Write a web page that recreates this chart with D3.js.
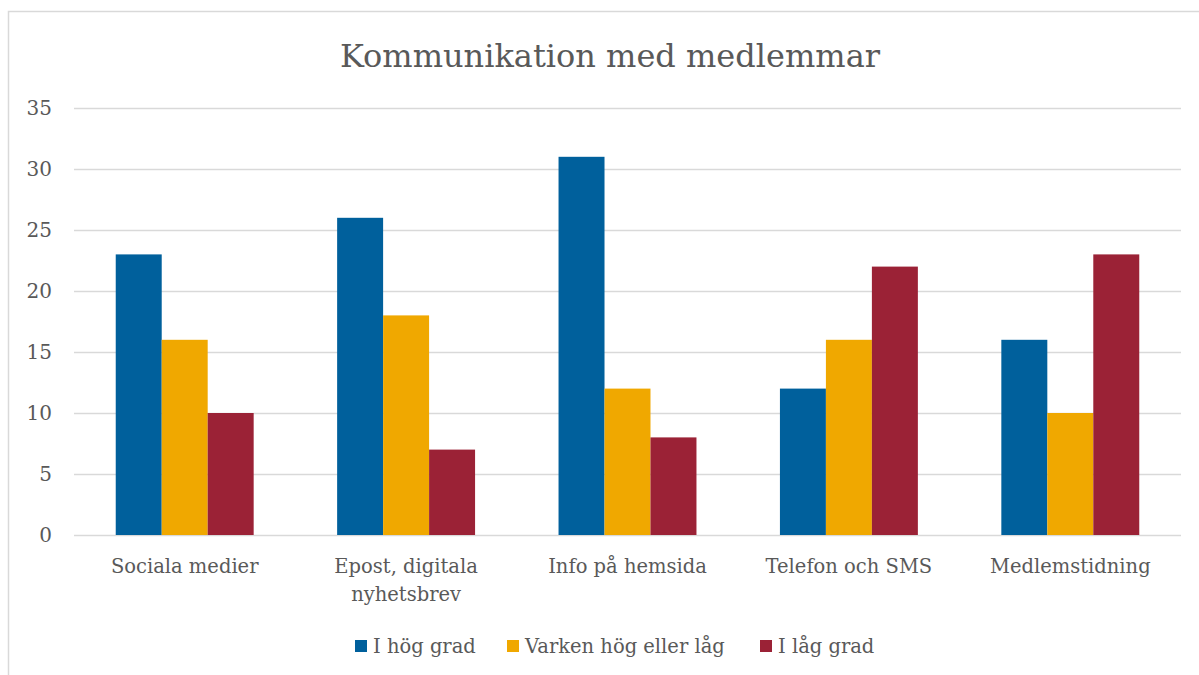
<!DOCTYPE html>
<html>
<head>
<meta charset="utf-8">
<script src="https://cdn.jsdelivr.net/npm/d3@7"></script>
<style>
  html, body { margin: 0; padding: 0; background: #fff; }
  svg { display: block; font-family: "DejaVu Serif", serif; }
</style>
</head>
<body>
<div id="chart"></div>
<script>
const categories = ["Sociala medier", "Epost, digitala\nnyhetsbrev", "Info på hemsida", "Telefon och SMS", "Medlemstidning"];
const seriesNames = ["I hög grad", "Varken hög eller låg", "I låg grad"];
const hogGrad = [23, 26, 31, 12, 16];
const varken = [16, 18, 12, 16, 10];
const lagGrad = [10, 7, 8, 22, 23];
const yTicks = [0, 5, 10, 15, 20, 25, 30, 35];
const colors = ["#00609c", "#f0a800", "#9b2236"];
const title = "Kommunikation med medlemmar";

const W = 1199, H = 675;
const margin = { top: 108, right: 18, bottom: 140, left: 74 };
const innerW = W - margin.left - margin.right;
const innerH = H - margin.top - margin.bottom;
const textColor = "#595959";

const svg = d3.select("#chart").append("svg").attr("width", W).attr("height", H);

// chart frame
svg.append("rect")
  .attr("x", 8.5).attr("y", 11.5)
  .attr("width", W + 10).attr("height", H + 10)
  .attr("fill", "none").attr("stroke", "#d9d9d9").attr("stroke-width", 1.5);

svg.append("text")
  .attr("x", 610).attr("y", 67)
  .attr("text-anchor", "middle")
  .attr("fill", textColor)
  .attr("font-size", "32px")
  .text(title);

const g = svg.append("g").attr("transform", `translate(${margin.left},${margin.top})`);

const x0 = d3.scaleBand().domain(categories).range([0, innerW]).paddingInner(0.377).paddingOuter(0.1885);
const x1 = d3.scaleBand().domain(seriesNames).range([0, x0.bandwidth()]);
const y = d3.scaleLinear().domain([0, 35]).range([innerH, 0]);

// gridlines
g.append("g")
  .call(d3.axisLeft(y).tickValues(yTicks).tickSize(-innerW).tickFormat(""))
  .call(s => s.select(".domain").remove())
  .selectAll(".tick line")
  .attr("stroke", "#d9d9d9").attr("stroke-width", 1.5);

// y labels
g.append("g")
  .call(d3.axisLeft(y).tickValues(yTicks).tickSize(0).tickPadding(22))
  .call(s => s.select(".domain").remove())
  .selectAll("text")
  .attr("fill", textColor)
  .attr("font-family", "DejaVu Serif")
  .attr("font-size", "20px");

const seriesData = [hogGrad, varken, lagGrad];
const rows = categories.map((c, i) => ({ cat: c, vals: seriesNames.map((s, j) => ({ s, v: seriesData[j][i] })) }));

const grp = g.selectAll(".grp").data(rows).join("g")
  .attr("transform", d => `translate(${x0(d.cat)},0)`);

grp.selectAll("rect").data(d => d.vals).join("rect")
  .attr("x", d => x1(d.s))
  .attr("y", d => y(d.v))
  .attr("width", x1.bandwidth())
  .attr("height", d => innerH - y(d.v))
  .attr("fill", (d, j) => colors[j]);

// category labels
const catLabels = g.selectAll(".cat").data(categories).join("text")
  .attr("class", "cat")
  .attr("text-anchor", "middle")
  .attr("fill", textColor)
  .attr("font-size", "19.5px")
  .attr("transform", d => `translate(${x0(d) + x0.bandwidth() / 2},${innerH + 38})`);
catLabels.selectAll("tspan").data(d => d.split("\n")).join("tspan")
  .attr("x", 0)
  .attr("dy", (d, i) => i === 0 ? 0 : 28)
  .text(d => d);

// legend
const legendX = [355, 507, 760];
const leg = svg.append("g").selectAll("g").data(seriesNames).join("g")
  .attr("transform", (d, i) => `translate(${legendX[i]},646)`);
leg.append("rect").attr("x", 0).attr("y", -6).attr("width", 12).attr("height", 12)
  .attr("fill", (d, i) => colors[i]);
leg.append("text").attr("x", 18).attr("y", 7)
  .attr("fill", textColor).attr("font-size", "19.5px")
  .text(d => d);
</script>
</body>
</html>
